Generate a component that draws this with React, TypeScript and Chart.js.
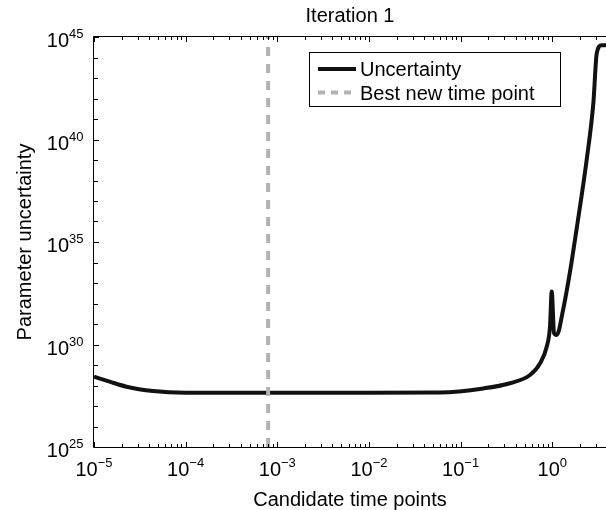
import React, { useEffect, useRef } from 'react';
import { Chart, registerables } from 'chart.js';

Chart.register(...registerables);

// ---- data ----
const candidateTimes = [
  1e-5, 1.48e-5, 2.26e-5, 4.41e-5, 1e-4, 1e-3, 1e-2, 0.0594, 0.177, 0.345, 0.571,
  0.735, 0.869, 0.944, 0.986, 1.045, 1.117, 1.318, 1.56, 1.845, 2.371, 2.805,
  3.055, 3.459, 3.98,
];
const uncertainty = [
  2.69e28, 1.55e28, 8.71e27, 5.37e27, 4.47e27, 4.47e27, 4.47e27, 4.6e27, 7.2e27,
  1.29e28, 3.24e28, 1.2e29, 7.76e29, 7.41e30, 3.8e32, 3.55e30, 2.88e30, 5.5e31,
  3.5e33, 4.5e35, 1e39, 5.89e41, 1.58e44, 3.98e44, 3.98e44,
];
const bestTimePoint = 7.94e-4;
const xRange = [1e-5, 3.855];
const yRange = [1e25, 1e45];
const xTickExponents = [-5, -4, -3, -2, -1, 0];
const yTickExponents = [25, 30, 35, 40, 45];
const seriesLabels = ['Uncertainty', 'Best new time point'];
const chartTitle = 'Iteration 1';
const xTitle = 'Candidate time points';
const yTitle = 'Parameter uncertainty';

const FONT = '"Liberation Sans", Arial, sans-serif';

const decorPlugin = {
  id: 'decor',
  afterDraw(chart: any) {
    const { ctx, chartArea } = chart;
    const xs = chart.scales.x;
    const ys = chart.scales.y;
    const { left, right, top, bottom } = chartArea;
    ctx.save();
    ctx.strokeStyle = '#000';
    ctx.lineWidth = 1;
    // frame (left, bottom, top)
    ctx.beginPath();
    ctx.moveTo(left - 0.5, top - 0.5);
    ctx.lineTo(left - 0.5, bottom + 0.5);
    ctx.lineTo(right + 1, bottom + 0.5);
    ctx.moveTo(left - 0.5, top - 0.5);
    ctx.lineTo(right + 1, top - 0.5);
    ctx.stroke();

    // x ticks (inward, bottom and top)
    ctx.beginPath();
    const nMin = xTickExponents[0];
    const nMax = xTickExponents[xTickExponents.length - 1] + 1;
    for (let n = nMin; n <= nMax; n++) {
      for (let k = 1; k <= 9; k++) {
        const v = k * Math.pow(10, n);
        if (v < xRange[0] || v > xRange[1]) continue;
        const px = Math.round(xs.getPixelForValue(v)) + 0.5;
        const len = k === 1 ? 5 : 3;
        ctx.moveTo(px, bottom);
        ctx.lineTo(px, bottom - len);
        ctx.moveTo(px, top);
        ctx.lineTo(px, top + len);
      }
    }
    // y ticks (inward, left)
    for (let n = 25; n <= 45; n++) {
      const py = Math.round(ys.getPixelForValue(Math.pow(10, n))) + 0.5;
      const len = yTickExponents.includes(n) ? 5 : 4;
      ctx.moveTo(left, py);
      ctx.lineTo(left + len, py);
    }
    ctx.stroke();

    // tick labels with superscripts
    ctx.fillStyle = '#000';
    ctx.textBaseline = 'alphabetic';
    ctx.textAlign = 'left';
    const baseFont = '20px ' + FONT;
    const expFont = '13px ' + FONT;
    xTickExponents.forEach((n) => {
      const px = xs.getPixelForValue(Math.pow(10, n));
      const base = '10';
      const exp = n < 0 ? '\u2212' + Math.abs(n) : String(n);
      ctx.font = baseFont;
      const wB = ctx.measureText(base).width;
      ctx.font = expFont;
      const wE = ctx.measureText(exp).width;
      const x0 = px - (wB + wE) / 2;
      ctx.font = baseFont;
      ctx.fillText(base, x0, bottom + 29);
      ctx.font = expFont;
      ctx.fillText(exp, x0 + wB, bottom + 20);
    });
    yTickExponents.forEach((n) => {
      const py = ys.getPixelForValue(Math.pow(10, n));
      const base = '10';
      const exp = String(n);
      ctx.font = expFont;
      const wE = ctx.measureText(exp).width;
      ctx.font = baseFont;
      const wB = ctx.measureText(base).width;
      const xr = left - 10.5;
      ctx.fillText(base, xr - wE - wB, py + 10.3);
      ctx.font = expFont;
      ctx.fillText(exp, xr - wE, py + 1.3);
    });

    // legend box
    const ds = chart.data.datasets;
    const bx = 309.5, by = 52.5, bw = 251, bh = 54;
    ctx.fillStyle = '#fff';
    ctx.fillRect(bx, by, bw, bh);
    ctx.strokeStyle = '#000';
    ctx.lineWidth = 1;
    ctx.strokeRect(bx, by, bw, bh);
    const rows = [
      { y: 69, textY: 76 },
      { y: 92.5, textY: 99.5 },
    ];
    ds.forEach((d: any, i: number) => {
      const r = rows[i];
      ctx.save();
      ctx.strokeStyle = d.borderColor;
      ctx.lineWidth = 4;
      ctx.setLineDash(i === 1 ? [7, 6] : []);
      ctx.beginPath();
      ctx.moveTo(318, r.y);
      ctx.lineTo(356, r.y);
      ctx.stroke();
      ctx.restore();
      ctx.fillStyle = '#000';
      ctx.font = baseFont;
      ctx.fillText(d.label, 360, r.textY);
    });
    ctx.restore();
  },
};

export default function App() {
  const ref = useRef<HTMLCanvasElement | null>(null);
  useEffect(() => {
    if (!ref.current) return;
    const chart = new Chart(ref.current, {
      type: 'line',
      data: {
        datasets: [
          {
            label: seriesLabels[0],
            data: candidateTimes.map((x, i) => ({ x, y: uncertainty[i] })),
            borderColor: '#111111',
            borderWidth: 4,
            pointRadius: 0,
            cubicInterpolationMode: 'monotone',
            fill: false,
            order: 1,
          },
          {
            label: seriesLabels[1],
            data: [
              { x: bestTimePoint, y: yRange[0] },
              { x: bestTimePoint, y: yRange[1] },
            ],
            borderColor: '#b2b2b2',
            borderWidth: 4,
            borderDash: [9, 8],
            pointRadius: 0,
            fill: false,
            order: 0,
          },
        ],
      },
      options: {
        animation: false,
        responsive: false,
        devicePixelRatio: 1,
        layout: { padding: 0 },
        plugins: {
          legend: { display: false },
          tooltip: { enabled: false },
          title: {
            display: true,
            text: chartTitle,
            fullSize: false,
            color: '#000',
            font: { family: FONT, size: 20, weight: 'normal', lineHeight: 1.2 },
            padding: { top: 4, bottom: 9 },
          },
        },
        scales: {
          x: {
            type: 'logarithmic',
            min: xRange[0],
            max: xRange[1],
            position: 'bottom',
            grid: { display: false },
            border: { display: false },
            ticks: { display: false },
            title: {
              display: true,
              text: xTitle,
              color: '#000',
              font: { family: FONT, size: 20, lineHeight: 1 },
              padding: { top: 0, bottom: 0 },
            },
            afterFit: (s: any) => {
              s.height = 63;
            },
          },
          y: {
            type: 'logarithmic',
            min: yRange[0],
            max: yRange[1],
            grid: { display: false },
            border: { display: false },
            ticks: { display: false },
            title: {
              display: true,
              text: yTitle,
              color: '#000',
              font: { family: FONT, size: 20, lineHeight: 1 },
              padding: { top: 15, bottom: 0 },
            },
            afterFit: (s: any) => {
              s.width = 94;
            },
          },
        },
      } as any,
      plugins: [decorPlugin],
    });
    return () => chart.destroy();
  }, []);
  return (
    <div style={{ position: 'absolute', left: 0, top: 0, width: 606, height: 510, background: '#fff' }}>
      <canvas ref={ref} width={606} height={510} style={{ display: 'block' }} />
    </div>
  );
}
